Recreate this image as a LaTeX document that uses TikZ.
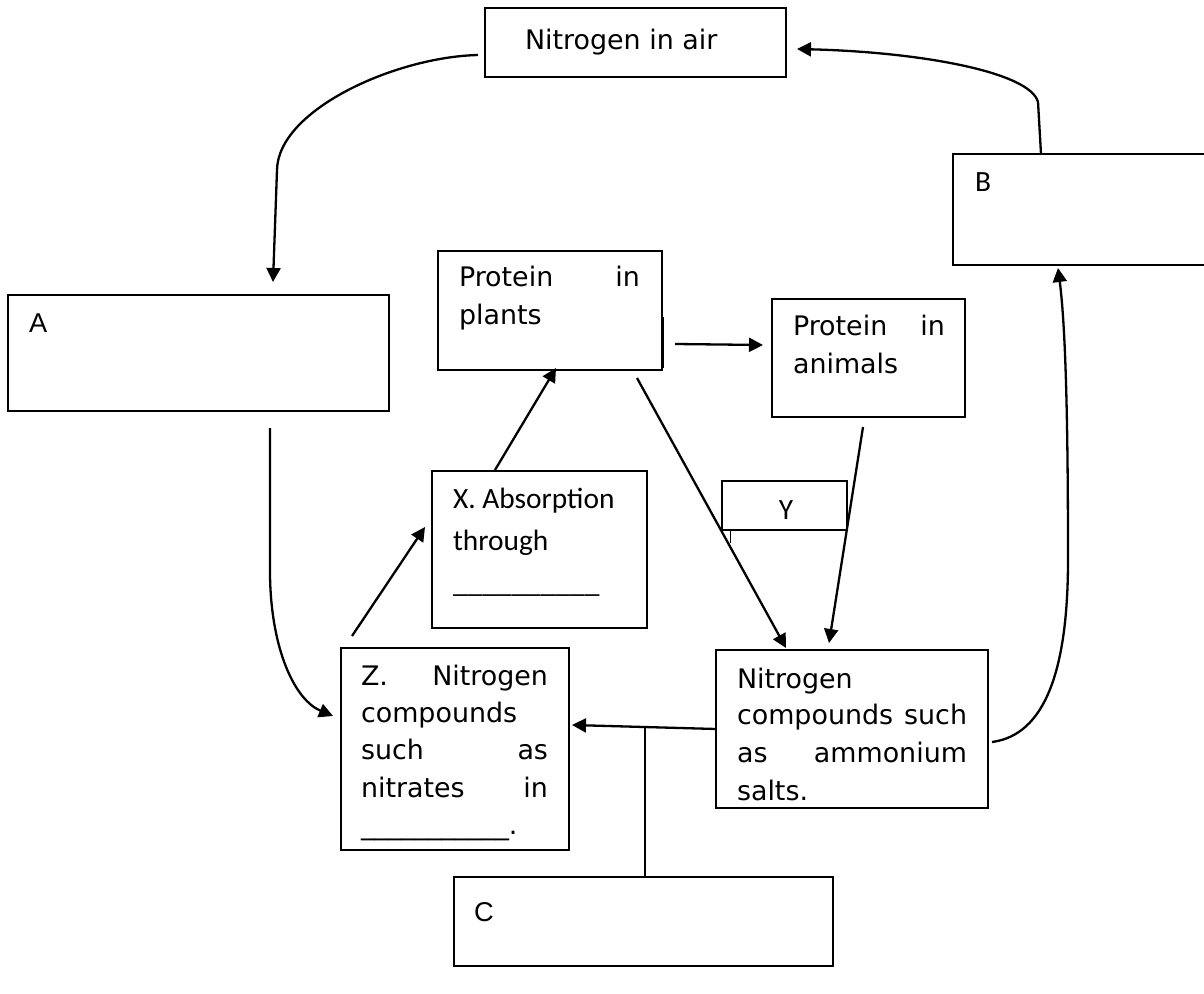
\documentclass[tikz,border=0pt]{standalone}
\usepackage{fontspec}
\setmainfont{DejaVu Sans}
\newfontfamily\calfont{Carlito}
\newfontfamily\arfont{Liberation Sans}
\usetikzlibrary{arrows.meta}
\begin{document}
\begin{tikzpicture}[x=0.5pt,y=-0.5pt,
  box/.style={draw, line width=0.8pt, inner sep=0pt, outer sep=0pt},
  txt/.style={inner sep=0pt, outer sep=0pt, anchor=base west, font=\fontsize{13.45}{19}\selectfont},
  ctxt/.style={inner sep=0pt, outer sep=0pt, anchor=base west, font=\calfont\fontsize{14.7}{21}\selectfont},
  atxt/.style={inner sep=0pt, outer sep=0pt, anchor=base west, font=\arfont\fontsize{13.6}{19}\selectfont},
  conn/.style={line width=1.15pt, -{Triangle[length=7pt,width=7pt]}},
  ]
\useasboundingbox (0,0) rectangle (1204,994);

% boxes
\node[box, minimum width=150.5pt, minimum height=34.5pt] (air) at (635.5,42.5) {};
\node[box, minimum width=190.5pt, minimum height=58pt] (A) at (198.5,353) {};
\node[inner sep=0pt, outer sep=0pt, minimum width=125.5pt, minimum height=55.5pt] (B) at (1078.5,209.5) {};
\draw[line width=0.8pt] (B.north east) -- (B.north west) -- (B.south west) -- (B.south east);
\node[box, minimum width=112pt, minimum height=59.5pt] (PP) at (550,310.5) {};
\node[box, minimum width=96.5pt, minimum height=59pt] (PA) at (868.5,358) {};
\node[box, minimum width=107.5pt, minimum height=78.5pt] (X) at (539.5,549.5) {};
\node[box, minimum width=62.5pt, minimum height=24.5pt] (Y) at (784.5,505.5) {};
\node[box, minimum width=114pt, minimum height=101pt] (Z) at (455,749) {};
\node[box, minimum width=136pt, minimum height=79pt] (NC) at (852,729) {};
\node[box, minimum width=189.5pt, minimum height=44.5pt] (C) at (643.5,921.5) {};

% small artefact lines
\draw[line width=0.5pt] (663,317) -- (663,368);
\draw[line width=0.4pt] (730,530) -- (730,543);

% texts
\node[txt] (airT) at (525,50) {Nitrogen in air};
\node[atxt] (AT) at (29,333) {A};
\node[ctxt] (BT) at (975,192) {B};
\node[txt] (pp1) at (459,287) {\hbox to 90.5pt{Protein\hfill in}};
\node[txt] (pp2) at (459,325) {plants};
\node[txt] (pa1) at (793,336) {\hbox to 76pt{Protein\hfill in}};
\node[txt] (pa2) at (793,373) {animals};
\node[ctxt] (x1) at (453,508) {X. Absorption};
\node[ctxt] (x2) at (453,550) {through};
\node[ctxt] (x3) at (453,592) {\_\_\_\_\_\_\_\_\_\_};
\node[ctxt, anchor=base] (YT) at (786,519) {Y};
\node[txt] (z1) at (361,685) {\hbox to 93.5pt{Z.\hfill Nitrogen}};
\node[txt] (z2) at (361,722) {compounds};
\node[txt] (z3) at (361,759) {\hbox to 93.5pt{such\hfill as}};
\node[txt] (z4) at (361,797) {\hbox to 93.5pt{nitrates\hfill in}};
\node[txt] (z5) at (361,834) {\_\_\_\_\_\_\_\_\_\_\_.};
\node[txt] (n1) at (737,688) {Nitrogen};
\node[txt] (n2) at (737,724) {\hbox to 115pt{compounds\hfill such}};
\node[txt] (n3) at (737,762) {\hbox to 115pt{as\hfill ammonium}};
\node[txt] (n4) at (737,800) {salts.};
\node[atxt] (CT) at (474,921) {C};

% connector end points
\coordinate (c1s) at (478,55);
\coordinate (c1e) at (273,282);
\coordinate (c2s) at (270,428);
\coordinate (c2e) at (333,716);
\coordinate (c3s) at (352,636);
\coordinate (c3e) at (425,527);
\coordinate (c4s) at (495,470);
\coordinate (c4e) at (556,368);
\coordinate (c5s) at (675,344);
\coordinate (c5e) at (763,345);
\coordinate (c6s) at (637,378);
\coordinate (c6e) at (786,648);
\coordinate (c7s) at (863,427);
\coordinate (c7e) at (829,643);
\coordinate (c8s) at (716,729);
\coordinate (c8e) at (572,725);
\coordinate (jn) at (645,726);
\coordinate (c10s) at (992,742);
\coordinate (c10e) at (1058,268);
\coordinate (c11e) at (797,49);

% connectors
\draw[conn] (c1s) .. controls (395,57) and (278,110) .. (277,170) -- (c1e);
\draw[conn] (c2s) -- (270,575) .. controls (271,650) and (295,700) .. (c2e);
\draw[conn] (c3s) -- (c3e);
\draw[conn] (c4s) -- (c4e);
\draw[conn] (c5s) -- (c5e);
\draw[conn] (c6s) -- (c6e);
\draw[conn] (c7s) -- (c7e);
\draw[conn] (c8s) -- (c8e);
\draw[line width=1.3pt] (C.north -| jn) -- (jn);
\draw[conn] (c10s) .. controls (1045,735) and (1068,670) .. (1068,560) .. controls (1068,430) and (1066,330) .. (c10e);
\draw[conn] (B.north -| 1041,0) -- (1038,102) .. controls (1030,72) and (920,52) .. (c11e);
\end{tikzpicture}
\end{document}
